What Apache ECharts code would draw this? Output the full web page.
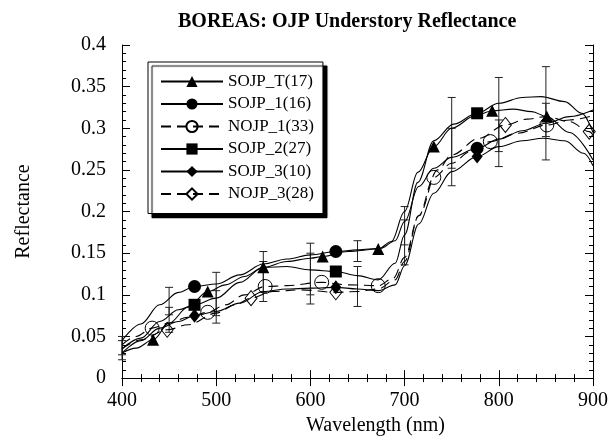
<!DOCTYPE html>
<html>
<head>
<meta charset="utf-8">
<script src="https://cdn.jsdelivr.net/npm/echarts@6/dist/echarts.min.js"></script>
<style>
  html, body { margin: 0; padding: 0; background: #fff; }
  #chart { width: 611px; height: 441px; }
</style>
</head>
<body>
<div id="chart"></div>
<script>
// wavelength (nm) / reflectance
const sojpT_nm = [400, 415, 433, 450, 470, 491, 510, 530, 550, 575, 600, 613, 640, 672, 686, 700, 714, 731, 750, 775, 793, 815, 835, 851, 875, 900]
const sojpT_r = [0.030, 0.036, 0.046, 0.066, 0.085, 0.104, 0.112, 0.122, 0.133, 0.140, 0.144, 0.146, 0.152, 0.155, 0.164, 0.200, 0.247, 0.278, 0.300, 0.315, 0.321, 0.323, 0.320, 0.314, 0.295, 0.262]
const sojpT_mk = [433, 491, 550, 613, 672, 731, 793, 851]

const sojp1_nm = [400, 420, 440, 460, 477, 500, 525, 550, 575, 600, 627, 650, 675, 690, 700, 715, 731, 750, 777, 800, 825, 850, 875, 900]
const sojp1_r = [0.045, 0.065, 0.088, 0.103, 0.110, 0.113, 0.124, 0.137, 0.143, 0.148, 0.152, 0.154, 0.156, 0.165, 0.188, 0.230, 0.252, 0.265, 0.276, 0.287, 0.297, 0.306, 0.314, 0.322]
const sojp1_mk = [477, 627, 777]

const nojp1_nm = [400, 415, 432, 450, 470, 491, 510, 530, 552, 575, 612, 640, 672, 688, 700, 715, 731, 750, 770, 791, 820, 851, 875, 900]
const nojp1_r = [0.040, 0.050, 0.060, 0.066, 0.073, 0.079, 0.088, 0.100, 0.110, 0.111, 0.115, 0.112, 0.111, 0.120, 0.145, 0.195, 0.241, 0.258, 0.272, 0.284, 0.294, 0.304, 0.310, 0.315]
const nojp1_mk = [432, 491, 552, 612, 672, 731, 791, 851]

const sojp2_nm = [400, 420, 440, 460, 477, 500, 525, 550, 575, 600, 627, 650, 672, 690, 700, 714, 731, 752, 777, 800, 825, 845, 870, 888, 900]
const sojp2_r = [0.035, 0.048, 0.068, 0.082, 0.088, 0.096, 0.115, 0.133, 0.134, 0.130, 0.128, 0.123, 0.118, 0.138, 0.172, 0.235, 0.285, 0.305, 0.318, 0.330, 0.337, 0.338, 0.332, 0.318, 0.295]
const sojp2_mk = [477, 627, 777]

const sojp3_nm = [400, 420, 440, 460, 477, 500, 525, 550, 575, 600, 627, 650, 672, 690, 700, 715, 731, 750, 777, 800, 825, 847, 870, 890, 900]
const sojp3_r = [0.030, 0.045, 0.060, 0.068, 0.075, 0.080, 0.090, 0.104, 0.107, 0.108, 0.109, 0.107, 0.105, 0.112, 0.135, 0.185, 0.222, 0.248, 0.266, 0.278, 0.285, 0.288, 0.285, 0.270, 0.255]
const sojp3_mk = [477, 627, 777]

const nojp3_nm = [400, 420, 448, 470, 500, 520, 537, 560, 590, 627, 650, 672, 690, 700, 715, 735, 750, 779, 807, 830, 850, 875, 896, 900]
const nojp3_r = [0.035, 0.046, 0.058, 0.064, 0.078, 0.088, 0.096, 0.104, 0.106, 0.103, 0.104, 0.107, 0.118, 0.140, 0.195, 0.250, 0.268, 0.288, 0.304, 0.311, 0.314, 0.308, 0.296, 0.292]
const nojp3_mk = [448, 537, 627, 807, 896]

// error bars: wavelength, low, high
const err_nm = [400, 400, 450, 450, 500, 500, 550, 550, 600, 600, 650, 650, 700, 700, 750, 750, 800, 800, 850, 850]
const err_lo = [0.022, 0.028, 0.076, 0.055, 0.066, 0.075, 0.092, 0.103, 0.089, 0.100, 0.086, 0.140, 0.136, 0.160, 0.231, 0.252, 0.254, 0.272, 0.262, 0.290]
const err_hi = [0.050, 0.045, 0.109, 0.085, 0.127, 0.105, 0.152, 0.140, 0.162, 0.150, 0.134, 0.165, 0.206, 0.190, 0.337, 0.300, 0.361, 0.310, 0.374, 0.330]

const FONT = 'Liberation Serif'

function lineData (nm, r, mk) {
  return nm.map((x, i) => {
    const item = { value: [x, r[i]] }
    if (mk.indexOf(x) < 0) item.symbol = 'none'
    return item
  })
}

function mkSeries (name, nm, r, mk, symbol, size, open, dashed) {
  return {
    name: name,
    type: 'line',
    smooth: 0.35,
    smoothMonotone: 'x',
    symbol: symbol,
    symbolSize: size,
    showSymbol: true,
    z: 3,
    lineStyle: { color: '#000', width: 1.1, type: dashed ? [10, 6] : 'solid' },
    itemStyle: open
      ? { color: 'rgba(255,255,255,0)', borderColor: '#000', borderWidth: 1 }
      : { color: '#000', borderColor: '#000', borderWidth: 0 },
    data: lineData(nm, r, mk)
  }
}

const errData = err_nm.map((x, i) => [x, err_lo[i], err_hi[i]])

const axisCommon = {
  type: 'value',
  splitLine: { show: false },
  axisLine: { lineStyle: { color: '#000', width: 1 } },
  axisTick: { inside: true, length: 8, lineStyle: { color: '#000' } },
  minorTick: { show: true, splitNumber: 5, length: 4, lineStyle: { color: '#000' } }
}

const myChart = echarts.init(document.getElementById('chart'))
const option = {
  animation: false,
  backgroundColor: '#fff',
  title: {
    text: 'BOREAS: OJP Understory Reflectance',
    left: 173,
    top: 7,
    textStyle: { fontFamily: FONT, fontWeight: 'bold', fontSize: 20, color: '#000' }
  },
  legend: {
    orient: 'vertical',
    left: 148,
    top: 62,
    padding: [11, 9, 11, 12],
    itemWidth: 62,
    itemHeight: 14,
    itemGap: 5.5,
    backgroundColor: '#fff',
    borderColor: '#000',
    borderWidth: 1,
    shadowColor: '#000',
    shadowBlur: 1,
    shadowOffsetX: 4,
    shadowOffsetY: 4,
    textStyle: { fontFamily: FONT, fontSize: 17, color: '#000' },
    data: ['SOJP_T(17)', 'SOJP_1(16)', 'NOJP_1(33)', 'SOJP_2(27)', 'SOJP_3(10)', 'NOJP_3(28)']
  },
  grid: { left: 122, right: 15, top: 45, bottom: 58 },
  xAxis: [
    Object.assign({}, axisCommon, {
      min: 400,
      max: 900,
      interval: 100,
      name: 'Wavelength (nm)',
      nameLocation: 'middle',
      nameGap: 30,
      nameTextStyle: { fontFamily: FONT, fontSize: 20, color: '#000', padding: [0, 0, 0, 36] },
      axisLabel: { fontFamily: FONT, fontSize: 20, color: '#000', margin: 13 }
    }),
    Object.assign({}, axisCommon, {
      min: 400,
      max: 900,
      interval: 100,
      position: 'top',
      axisLabel: { show: false }
    })
  ],
  yAxis: [
    Object.assign({}, axisCommon, {
      min: 0,
      max: 0.4,
      interval: 0.05,
      name: 'Reflectance',
      nameLocation: 'middle',
      nameGap: 88,
      nameTextStyle: { fontFamily: FONT, fontSize: 20, color: '#000' },
      axisLabel: {
        fontFamily: FONT,
        fontSize: 20,
        color: '#000',
        margin: 16,
        formatter: v => String(parseFloat(v.toFixed(2)))
      }
    }),
    Object.assign({}, axisCommon, {
      min: 0,
      max: 0.4,
      interval: 0.05,
      position: 'right',
      axisLabel: { show: false }
    })
  ],
  series: [
    {
      name: 'errorbars',
      type: 'custom',
      z: 2,
      data: errData,
      renderItem: function (params, api) {
        const x = api.value(0)
        const top = api.coord([x, api.value(2)])
        const bot = api.coord([x, api.value(1)])
        const st = { stroke: '#222', lineWidth: 1 }
        const w = 4
        return {
          type: 'group',
          children: [
            { type: 'line', shape: { x1: top[0], y1: top[1], x2: bot[0], y2: bot[1] }, style: st },
            { type: 'line', shape: { x1: top[0] - w, y1: top[1], x2: top[0] + w, y2: top[1] }, style: st },
            { type: 'line', shape: { x1: bot[0] - w, y1: bot[1], x2: bot[0] + w, y2: bot[1] }, style: st }
          ]
        }
      }
    },
    mkSeries('SOJP_T(17)', sojpT_nm, sojpT_r, sojpT_mk, 'triangle', 12, false, false),
    mkSeries('SOJP_1(16)', sojp1_nm, sojp1_r, sojp1_mk, 'circle', 13, false, false),
    mkSeries('NOJP_1(33)', nojp1_nm, nojp1_r, nojp1_mk, 'circle', 14, true, true),
    mkSeries('SOJP_2(27)', sojp2_nm, sojp2_r, sojp2_mk, 'rect', 12, false, false),
    mkSeries('SOJP_3(10)', sojp3_nm, sojp3_r, sojp3_mk, 'diamond', [11, 14], false, false),
    mkSeries('NOJP_3(28)', nojp3_nm, nojp3_r, nojp3_mk, 'diamond', [12, 15], true, true)
  ]
}
myChart.setOption(option)
</script>
</body>
</html>
